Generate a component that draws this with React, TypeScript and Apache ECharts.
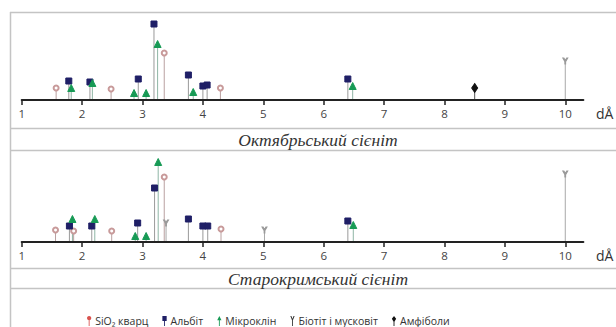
import React, { useEffect, useRef } from "react";
import * as echarts from "echarts";

// d-spacing (Å) and relative intensity
const quartzTop = [[1.57, 12], [2.48, 11], [3.36, 47], [4.29, 12]];
const albiteTop = [[1.78, 19], [2.13, 18], [2.93, 21], [3.19, 76], [3.76, 25], [4.0, 14], [4.07, 15], [6.4, 21]];
const microTop = [[1.82, 12], [2.17, 17], [2.86, 7], [3.06, 7], [3.25, 56], [3.84, 8], [6.48, 14]];
const biotiteTop = [[10.0, 39]];
const amphTop = [[8.5, 12]];

const quartzBot = [[1.56, 12], [1.86, 11], [2.49, 11], [3.36, 65], [4.3, 13]];
const albiteBot = [[1.79, 16], [2.16, 16], [2.92, 19], [3.2, 54], [3.76, 23], [4.0, 16], [4.08, 16], [6.4, 21]];
const microBot = [[1.84, 23], [2.21, 23], [2.88, 6], [3.06, 6], [3.26, 80], [6.49, 17]];
const biotiteBot = [[3.39, 19], [5.02, 12], [10.0, 68]];
const amphBot: number[][] = [];

const tickValues = [1, 2, 3, 4, 5, 6, 7, 8, 9, 10];
const titles = ["Октябрьський сієніт", "Старокримський сієніт"];
const names = ["SiO₂ кварц", "Альбіт", "Мікроклін", "Біотіт і мусковіт", "Амфіболи"];

const Y_PATH = "path://M0,0 L1.4,0 L3,3 L4.6,0 L6,0 L3.5,4.2 L3.5,7 L2.5,7 L2.5,4.2 Z";

const minerals = [
  { name: names[0], top: quartzTop, bot: quartzBot, symbol: "emptyCircle", size: 5, color: "#c89a9a", stem: "#b9a0a0", icon: "path://M3,0 A3,3 0 1,1 2.99,0 Z M2.4,5.5 L3.6,5.5 L3.6,14 L2.4,14 Z", legendColor: "#d9534f" },
  { name: names[1], top: albiteTop, bot: albiteBot, symbol: "rect", size: 6, color: "#1f1f66", stem: "#9a9a9a", icon: "path://M0,0 L6,0 L6,7 L3.6,7 L3.6,14 L2.4,14 L2.4,7 L0,7 Z", legendColor: "#1f1f66" },
  { name: names[2], top: microTop, bot: microBot, symbol: "triangle", size: 7, color: "#179a55", stem: "#8fb5a5", icon: "path://M3,0 L6,6 L3.6,6 L3.6,14 L2.4,14 L2.4,6 L0,6 Z", legendColor: "#179a55" },
  { name: names[3], top: biotiteTop, bot: biotiteBot, symbol: Y_PATH, size: [5, 6], color: "#9a9a9a", stem: "#a8a8a8", icon: "path://M0,0 L1.5,0 L3,4 L4.5,0 L6,0 L3.6,6 L3.6,14 L2.4,14 L2.4,6 Z", legendColor: "#333333" },
  { name: names[4], top: amphTop, bot: amphBot, symbol: "diamond", size: [6, 9], color: "#111111", stem: "#555555", icon: "path://M3,0 L6,4 L3.6,8 L3.6,14 L2.4,14 L2.4,8 L0,4 Z", legendColor: "#111111" },
];

export default function App() {
  const ref = useRef<HTMLDivElement>(null);
  useEffect(() => {
    if (!ref.current) return;
    const chart = echarts.init(ref.current, null, { renderer: "svg" });
    const xAxisBase = (gridIndex: number) => ({
      type: "value",
      gridIndex,
      min: 1,
      max: 10.3,
      interval: 1,
      splitLine: { show: false },
      axisLine: { show: true, lineStyle: { color: "#222", width: 2 } },
      axisTick: { show: true, length: 5, customValues: tickValues, lineStyle: { color: "#222", width: 1.5 } },
      axisLabel: { show: true, customValues: tickValues, margin: 7, fontSize: 11.5, color: "#444", fontFamily: "Open Sans" },
    });
    const yAxisBase = (gridIndex: number) => ({
      type: "value", gridIndex, min: 0, max: 80, show: false,
    });
    const series: any[] = [];
    minerals.forEach((m) => {
      [m.top, m.bot].forEach((data, gi) => {
        series.push({
          type: "custom",
          xAxisIndex: gi,
          yAxisIndex: gi,
          z: 1,
          silent: true,
          encode: { x: 0, y: 1 },
          data,
          renderItem: (params: any, api: any) => {
            const top = api.coord([api.value(0), api.value(1)]);
            const base = api.coord([api.value(0), 0]);
            return {
              type: "line",
              shape: { x1: top[0], y1: top[1], x2: base[0], y2: base[1] - 1 },
              style: { stroke: m.stem, lineWidth: 1 },
            };
          },
        });
        series.push({
          name: m.name,
          type: "scatter",
          xAxisIndex: gi,
          yAxisIndex: gi,
          z: 3,
          symbol: m.symbol,
          symbolSize: m.size,
          itemStyle: { color: m.color, borderColor: m.color, opacity: 1 },
          data,
        });
      });
    });
    const lineColor = "#c4c4c4";
    const hLine = (y: number) => ({
      type: "line",
      shape: { x1: 10, y1: y, x2: 616, y2: y },
      style: { stroke: lineColor, lineWidth: 1.5 },
      silent: true,
    });
    chart.setOption({
      animation: false,
      backgroundColor: "#ffffff",
      grid: [
        { left: 21.7, top: 20, width: 561.7, height: 80 },
        { left: 21.7, top: 162, width: 561.7, height: 80 },
      ],
      xAxis: [xAxisBase(0), xAxisBase(1)],
      yAxis: [yAxisBase(0), yAxisBase(1)],
      legend: {
        left: 87,
        top: 315,
        padding: 0,
        itemWidth: 6,
        itemHeight: 10,
        itemGap: 14,
        textStyle: { fontSize: 10.5, lineHeight: 12, color: "#333", fontFamily: "Open Sans", padding: [0, 0, 0, -2] },
        data: minerals.map((m) => ({ name: m.name, icon: m.icon, itemStyle: { color: m.legendColor, borderWidth: 0 } })),
      },
      graphic: [
        hLine(12.5),
        hLine(128.5),
        hLine(150.5),
        hLine(268.5),
        hLine(288.5),
        {
          type: "line",
          shape: { x1: 10.5, y1: 12, x2: 10.5, y2: 327 },
          style: { stroke: lineColor, lineWidth: 1.5 },
          silent: true,
        },
        {
          type: "text", x: 596, y: 113,
          style: { text: "dÅ", font: "14px 'Open Sans'", fill: "#333", textVerticalAlign: "middle" },
        },
        {
          type: "text", x: 596, y: 255,
          style: { text: "dÅ", font: "14px 'Open Sans'", fill: "#333", textVerticalAlign: "middle" },
        },
        {
          type: "text", x: 318, y: 140,
          style: { text: titles[0], font: "italic 17.5px 'Liberation Serif'", fill: "#333", textAlign: "center", textVerticalAlign: "middle" },
        },
        {
          type: "text", x: 318, y: 279,
          style: { text: titles[1], font: "italic 17.5px 'Liberation Serif'", fill: "#333", textAlign: "center", textVerticalAlign: "middle" },
        },
      ],
      series,
    });
    return () => chart.dispose();
  }, []);
  return (
    <div
      ref={ref}
      style={{ position: "fixed", left: 0, top: 0, width: 616, height: 327, background: "#fff" }}
    />
  );
}
